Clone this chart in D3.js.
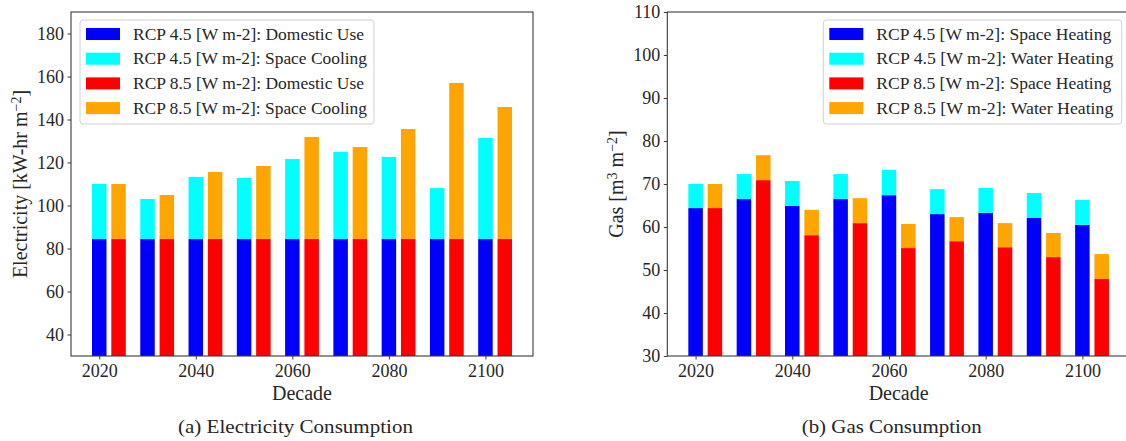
<!DOCTYPE html>
<html>
<head>
<meta charset="utf-8">
<script src="https://cdn.jsdelivr.net/npm/d3@7"></script>
<style>
  html, body { margin: 0; padding: 0; background: #fff; overflow: hidden; }
  svg { display: block; }
  text { font-family: "Liberation Serif", "DejaVu Serif", serif; fill: #262626; }
</style>
</head>
<body>
<svg id="chart" width="1126" height="441"></svg>
<script>
// ---------- data ----------
const decades = [2020, 2030, 2040, 2050, 2060, 2070, 2080, 2090, 2100];
const xTicks = [2020, 2040, 2060, 2080, 2100];

// Electricity [kW-hr m-2]
const elecDomestic45 = [84.4, 84.4, 84.4, 84.4, 84.4, 84.4, 84.4, 84.4, 84.4];
const elecCooling45  = [25.6, 18.6, 28.9, 28.4, 37.2, 40.5, 38.2, 23.7, 47.0];
const elecDomestic85 = [84.4, 84.4, 84.4, 84.4, 84.4, 84.4, 84.4, 84.4, 84.4];
const elecCooling85  = [25.6, 20.5, 31.2, 34.0, 47.5, 42.8, 51.2, 72.6, 61.4];
const elecYTicks = [40, 60, 80, 100, 120, 140, 160, 180];

// Gas [m3 m-2]
const gasSpace45 = [64.4, 66.5, 64.9, 66.5, 67.4, 63.0, 63.3, 62.1, 60.5];
const gasWater45 = [5.6, 5.8, 5.8, 5.8, 5.9, 5.8, 5.8, 5.8, 5.8];
const gasSpace85 = [64.4, 70.9, 58.1, 60.9, 55.1, 56.7, 55.3, 53.0, 47.9];
const gasWater85 = [5.6, 5.8, 5.9, 5.8, 5.6, 5.6, 5.6, 5.6, 5.8];
const gasYTicks = [30, 40, 50, 60, 70, 80, 90, 100, 110];

const elecLegend = ["RCP 4.5 [W m-2]: Domestic Use", "RCP 4.5 [W m-2]: Space Cooling",
                    "RCP 8.5 [W m-2]: Domestic Use", "RCP 8.5 [W m-2]: Space Cooling"];
const gasLegend = ["RCP 4.5 [W m-2]: Space Heating", "RCP 4.5 [W m-2]: Water Heating",
                   "RCP 8.5 [W m-2]: Space Heating", "RCP 8.5 [W m-2]: Water Heating"];
const colors = ["#0000ff", "#00ffff", "#ff0000", "#ffa500"];

// ---------- drawing ----------
const svg = d3.select("#chart");
const INK = "#262626";
const barW = 3, offset85 = 4;

function panel(cfg) {
  const g = svg.append("g");
  const x = d3.scaleLinear().domain([2014.15, 2109.85]).range([cfg.x0, cfg.x1]);
  const y = d3.scaleLinear().domain(cfg.yDomain).range([cfg.y1, cfg.y0]);

  const clipId = "clip" + cfg.id;
  svg.append("clipPath").attr("id", clipId).append("rect")
    .attr("x", cfg.x0).attr("y", cfg.y0).attr("width", cfg.x1 - cfg.x0).attr("height", cfg.y1 - cfg.y0);

  const bars = g.append("g").attr("clip-path", `url(#${clipId})`);
  const series = [
    {base: null, vals: cfg.a45, off: 0, c: colors[0]},
    {base: cfg.a45, vals: cfg.b45, off: 0, c: colors[1]},
    {base: null, vals: cfg.a85, off: offset85, c: colors[2]},
    {base: cfg.a85, vals: cfg.b85, off: offset85, c: colors[3]}
  ];
  series.forEach(s => {
    bars.selectAll(null).data(decades).enter().append("rect")
      .attr("x", (d) => x(d + s.off - barW / 2))
      .attr("width", (d) => x(d + s.off + barW / 2) - x(d + s.off - barW / 2))
      .attr("y", (d, i) => y((s.base ? s.base[i] : 0) + s.vals[i]))
      .attr("height", (d, i) => y(s.base ? s.base[i] : 0) - y((s.base ? s.base[i] : 0) + s.vals[i]))
      .attr("fill", s.c);
  });

  // axes
  const ax = g.append("g").attr("transform", `translate(0,${cfg.y1})`)
    .call(d3.axisBottom(x).tickValues(xTicks).tickFormat(d3.format("d")).tickSize(3.5).tickPadding(5));
  const ay = g.append("g").attr("transform", `translate(${cfg.x0},0)`)
    .call(d3.axisLeft(y).tickValues(cfg.yTicks).tickSize(3.5).tickPadding(3.5));
  [ax, ay].forEach(a => {
    a.select(".domain").remove();
    a.selectAll(".tick line").attr("stroke", INK).attr("stroke-width", 0.9);
    a.selectAll(".tick text").attr("font-family", "Liberation Serif").attr("font-size", 18).attr("fill", INK);
  });

  // frame
  g.append("rect").attr("x", cfg.x0).attr("y", cfg.y0)
    .attr("width", cfg.x1 - cfg.x0).attr("height", cfg.y1 - cfg.y0)
    .attr("fill", "none").attr("stroke", "#3a3a3a").attr("stroke-width", 1.1);

  // x label
  g.append("text").attr("x", (cfg.x0 + cfg.x1) / 2).attr("y", 400)
    .attr("text-anchor", "middle").attr("font-size", 20).text("Decade");

  // y label
  const yl = g.append("text")
    .attr("transform", `translate(${cfg.ylx},${(cfg.y0 + cfg.y1) / 2}) rotate(-90)`)
    .attr("text-anchor", "middle").attr("font-size", 20);
  cfg.ylabel.forEach(p => {
    const t = yl.append("tspan").text(p.t);
    if (p.sup) t.attr("font-size", 14).attr("baseline-shift", "40%");
  });

  // caption
  g.append("text").attr("x", cfg.capX).attr("y", 433)
    .attr("text-anchor", "middle").attr("font-size", 18)
    .attr("textLength", cfg.capLen).attr("lengthAdjust", "spacingAndGlyphs")
    .text(cfg.caption);

  // legend
  const L = cfg.legend;
  const lg = g.append("g");
  lg.append("rect").attr("x", L.x).attr("y", 20).attr("width", L.w).attr("height", 104)
    .attr("rx", 3).attr("fill", "#fff").attr("fill-opacity", 0.8)
    .attr("stroke", "#d0d0d0").attr("stroke-width", 1);
  L.labels.forEach((lab, i) => {
    const cy = 34 + i * 24.7;
    lg.append("rect").attr("x", L.x + 6).attr("y", cy - 6).attr("width", 34).attr("height", 12)
      .attr("fill", colors[i]);
    lg.append("text").attr("x", L.x + 53).attr("y", cy + 5.5).attr("font-size", 17)
      .attr("textLength", L.tl[i]).attr("lengthAdjust", "spacingAndGlyphs")
      .text(lab);
  });
}

panel({
  id: "a", x0: 71, x1: 533, y0: 12, y1: 356, yDomain: [30, 190], yTicks: elecYTicks,
  a45: elecDomestic45, b45: elecCooling45, a85: elecDomestic85, b85: elecCooling85,
  ylx: 27, ylabel: [{t: "Electricity [kW-hr m"}, {t: "−2", sup: true}, {t: "]"}],
  caption: "(a) Electricity Consumption", capX: 295.5, capLen: 235,
  legend: {x: 80, w: 294, labels: elecLegend, tl: [231, 234, 231, 234]}
});

panel({
  id: "b", x0: 667.3, x1: 1130, y0: 12, y1: 356, yDomain: [30, 110], yTicks: gasYTicks,
  a45: gasSpace45, b45: gasWater45, a85: gasSpace85, b85: gasWater85,
  ylx: 623, ylabel: [{t: "Gas [m"}, {t: "3", sup: true}, {t: " m"}, {t: "−2", sup: true}, {t: "]"}],
  caption: "(b) Gas Consumption", capX: 891.7, capLen: 180,
  legend: {x: 823.3, w: 298.4, labels: gasLegend, tl: [235, 237, 235, 237]}
});
</script>
</body>
</html>
